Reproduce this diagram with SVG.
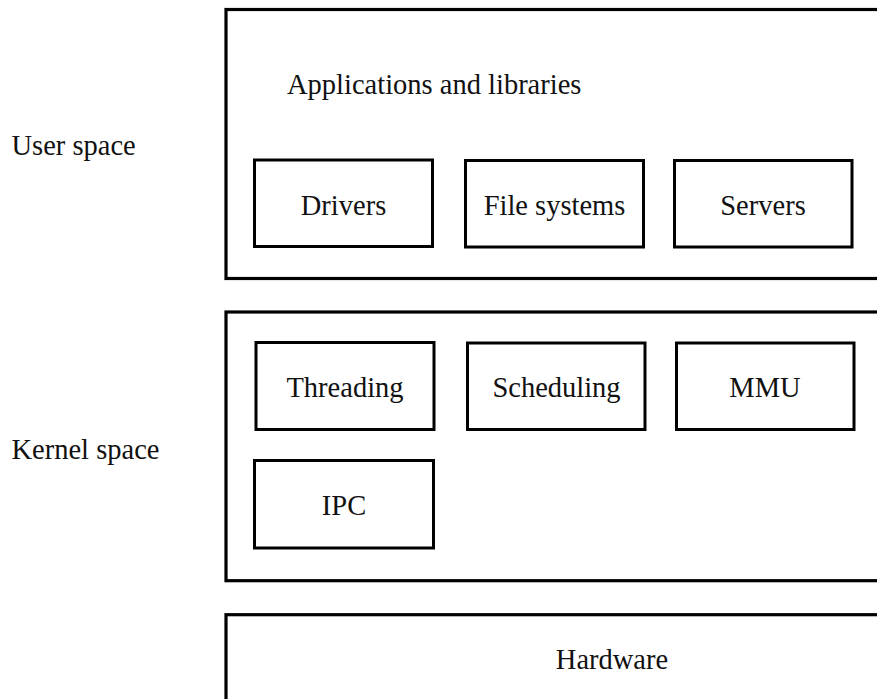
<svg xmlns="http://www.w3.org/2000/svg" width="877" height="699" viewBox="0 0 877 699">
<style>
.outer{fill:none;stroke:#000;stroke-width:3.2}
.box{fill:#fff;stroke:#000;stroke-width:3}
text{font-family:"Liberation Serif","DejaVu Serif",serif;font-size:28.5px;fill:#111}
.c{text-anchor:middle}
</style>
<rect width="877" height="699" fill="#fff"/>
<g id="label-user"><text x="11.5" y="155">User space</text></g>
<g id="label-kernel"><text x="11.5" y="459">Kernel space</text></g>
<g id="user-space">
<rect class="outer" x="226" y="9.5" width="700" height="269"/>
<text x="287" y="94">Applications and libraries</text>
</g>
<g id="drivers"><rect class="box" x="254.5" y="160" width="178" height="86.5"/><text class="c" x="343.5" y="215">Drivers</text></g>
<g id="filesystems"><rect class="box" x="465.5" y="160.5" width="178" height="86.5"/><text class="c" x="554.5" y="215">File systems</text></g>
<g id="servers"><rect class="box" x="674.5" y="160.5" width="177.5" height="86.5"/><text class="c" x="763" y="215">Servers</text></g>
<g id="kernel-space"><rect class="outer" x="226" y="312" width="700" height="268.7"/></g>
<g id="threading"><rect class="box" x="256" y="342.5" width="178" height="87"/><text class="c" x="345" y="397">Threading</text></g>
<g id="scheduling"><rect class="box" x="467.5" y="343" width="177.5" height="86.5"/><text class="c" x="556.5" y="397">Scheduling</text></g>
<g id="mmu"><rect class="box" x="676.5" y="343" width="177.5" height="86.5"/><text class="c" x="765" y="397">MMU</text></g>
<g id="ipc"><rect class="box" x="254.5" y="460.5" width="179" height="87.5"/><text class="c" x="344" y="515">IPC</text></g>
<g id="hardware"><rect class="outer" x="226" y="614.7" width="700" height="120"/><text class="c" x="612" y="669">Hardware</text></g>
<g id="connectors"></g>
</svg>
